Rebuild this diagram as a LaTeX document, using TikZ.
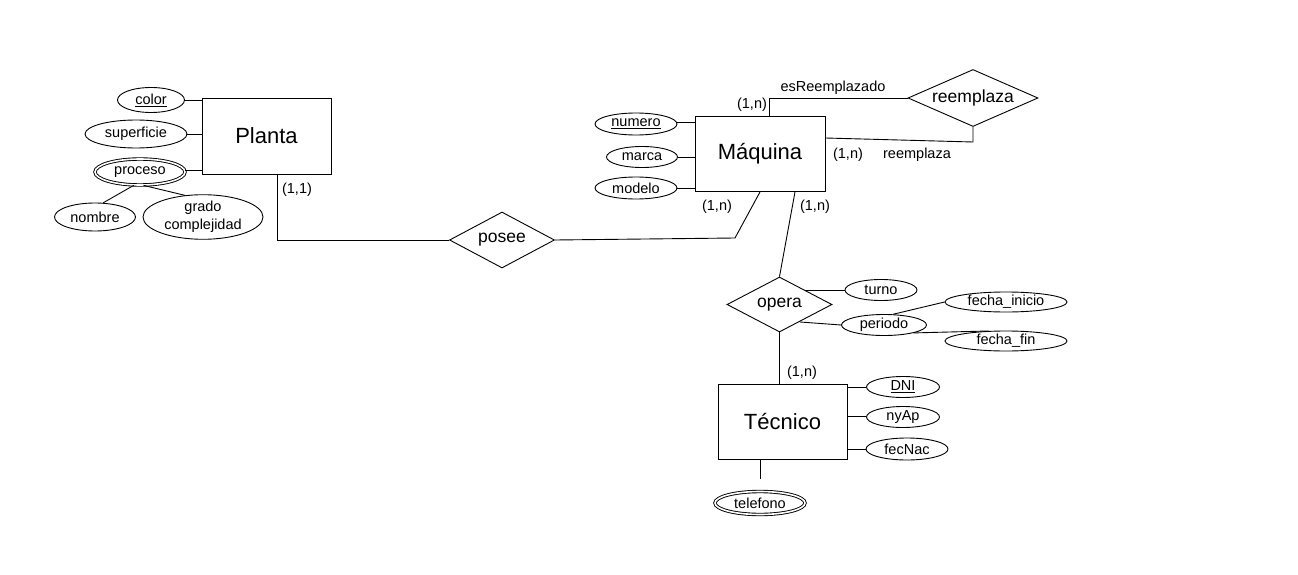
\documentclass[tikz,border=0pt]{standalone}
\usepackage{fontspec}
\setmainfont{Liberation Sans}
\usetikzlibrary{shapes.geometric}
\tikzset{
  base/.style={line width=0.9pt},
  entity/.style={draw, line width=0.9pt, rectangle, inner sep=0pt, font=\fontsize{22}{24}\selectfont},
  rel/.style={draw, line width=0.9pt, diamond, inner sep=0pt, font=\fontsize{17.5}{19}\selectfont},
  attr/.style={draw, line width=0.9pt, ellipse, inner sep=0pt, font=\fontsize{14.5}{16}\selectfont},
  mattr/.style={attr, double, double distance=1.6pt, line width=0.9pt},
  lbl/.style={inner sep=0pt, font=\fontsize{14.5}{16}\selectfont},
}
\begin{document}
\begin{tikzpicture}[x=1pt,y=-1pt]
\useasboundingbox (0,0) rectangle (1298,575);
% entities
\node[entity, minimum width=129pt, minimum height=76pt] (planta) at (266.5,136) {Planta};
\node[entity, minimum width=130pt, minimum height=75pt] (maquina) at (760,154) {Máquina};
\node[entity, minimum width=129pt, minimum height=75pt] (tecnico) at (782.5,421.5) {Técnico};
% relationships
\node[rel, aspect=1.875, minimum width=105pt, minimum height=56pt] (posee) at (502,240) {posee};
\node[rel, aspect=2.28, minimum width=130pt, minimum height=57pt] (reemplaza) at (973,98) {reemplaza};
\node[rel, aspect=1.9, minimum width=105pt, minimum height=55pt] (opera) at (779.5,304.5) {opera};
% Planta attributes
\node[attr, minimum width=67pt, minimum height=25pt] (color) at (151,100) {\underline{color}};
\node[attr, minimum width=102pt, minimum height=28pt] (superficie) at (136,134) {superficie};
\node[mattr, minimum width=90pt, minimum height=26pt] (proceso) at (140,172) {proceso};
\node[attr, minimum width=81pt, minimum height=28pt] (nombre) at (95,217) {nombre};
\node[attr, minimum width=120pt, minimum height=43pt, align=center, font=\fontsize{14.5}{18}\selectfont] (grado) at (203,217) {grado\\complejidad};
% Maquina attributes
\node[attr, minimum width=82pt, minimum height=22pt] (numero) at (636,124) {\underline{numero}};
\node[attr, minimum width=71pt, minimum height=21pt] (marca) at (642,157) {marca};
\node[attr, minimum width=82pt, minimum height=22pt] (modelo) at (636,188) {modelo};
% opera attributes
\node[attr, minimum width=72pt, minimum height=21pt] (turno) at (881,290) {turno};
\node[attr, minimum width=85pt, minimum height=21pt] (periodo) at (884,325) {periodo};
\node[attr, minimum width=122pt, minimum height=20pt] (finicio) at (1006,302) {fecha\_inicio};
\node[attr, minimum width=122pt, minimum height=20pt] (ffin) at (1006,341) {fecha\_fin};
% Tecnico attributes
\node[attr, minimum width=73pt, minimum height=21pt] (dni) at (903,387) {\underline{DNI}};
\node[attr, minimum width=73pt, minimum height=21pt] (nyap) at (903,417) {nyAp};
\node[attr, minimum width=82pt, minimum height=22pt] (fecnac) at (907,449) {fecNac};
\node[mattr, minimum width=90pt, minimum height=23pt] (telefono) at (760,503) {telefono};
% helper coordinates
\coordinate (pm) at (735,238);
\coordinate (rb) at (973,142);
\coordinate (ot) at (805,290);
\coordinate (op) at (800,322);
\coordinate (tt) at (760,479);
% connectors: Planta
\draw[base] (color.east) -- (color.east -| planta.west);
\draw[base] (superficie.east) -- (superficie.east -| planta.west);
\draw[base] ([yshift=2pt]proceso.east) -- ([yshift=2pt]proceso.east -| planta.west);
\draw[base] (proceso.245) -- (nombre.60);
\draw[base] (proceso.285) -- (grado.130);
\draw[base] ([xshift=10.5pt]planta.south) |- (posee.west);
\draw[base] (posee.east) -- (pm) -- (maquina.south);
% Maquina
\draw[base] ([yshift=2pt]numero.east) -- ([yshift=2pt]numero.east -| maquina.west);
\draw[base] (marca.east) -- (marca.east -| maquina.west);
\draw[base] (modelo.east) -- (modelo.east -| maquina.west);
\draw[base] ([xshift=9pt]maquina.north) |- (reemplaza.west);
\draw[base] (reemplaza.south) -- (rb) -- ([yshift=16pt]maquina.east);
\draw[base] ([xshift=35pt]maquina.south) -- (opera.north);
% opera
\draw[base] (ot) -- (turno.west);
\draw[base] (op) -- (periodo.west);
\draw[base] (periodo.50) -- (finicio.west);
\draw[base] (periodo.345) -- (ffin.150);
\draw[base] (opera.south) -- (opera.south |- tecnico.north);
% Tecnico
\draw[base] (dni.west -| tecnico.east) -- (dni.west);
\draw[base] ([yshift=1pt]nyap.west -| tecnico.east) -- ([yshift=1pt]nyap.west);
\draw[base] (fecnac.west -| tecnico.east) -- (fecnac.west);
\draw[base] (tecnico.south -| tt) -- (tt);
% labels
\node[lbl] (l1) at (297,190) {(1,1)};
\node[lbl] (l2) at (752,105) {(1,n)};
\node[lbl] (l3) at (833,88) {esReemplazado};
\node[lbl] (l4) at (848,155) {(1,n)};
\node[lbl] (l5) at (917,155) {reemplaza};
\node[lbl] (l6) at (717,207) {(1,n)};
\node[lbl] (l7) at (815,207) {(1,n)};
\node[lbl] (l8) at (802,373) {(1,n)};
\end{tikzpicture}
\end{document}
